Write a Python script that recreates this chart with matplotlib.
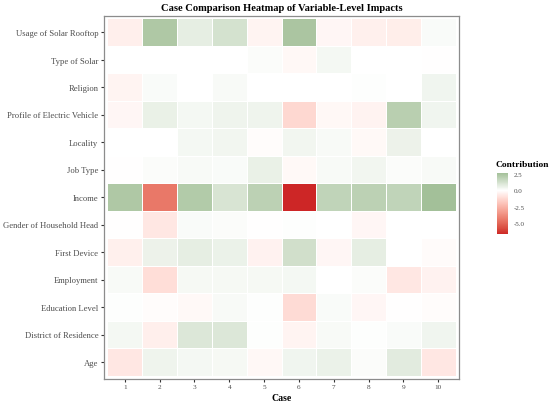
import numpy as np
import matplotlib
matplotlib.use("Agg")
from matplotlib import pyplot as plt
from matplotlib.colors import ListedColormap, Normalize

plt.rcParams['font.family'] = ['Liberation Serif', 'DejaVu Serif']

# variables, top to bottom as drawn
variables = ["Usage of Solar Rooftop", "Type of Solar", "Religion",
             "Profile of Electric Vehicle", "Locality", "Job Type", "Income",
             "Gender of Household Head", "First Device", "Employment",
             "Education Level", "District of Residence", "Age"]
cases = [1, 2, 3, 4, 5, 6, 7, 8, 9, 10]

# contribution of each variable per case
solar_rooftop = [-0.55, 2.3, 0.7, 1.2, -0.35, 2.4, -0.3, -0.5, -0.6, 0.15]
type_solar = [0.0, 0.02, 0.0, 0.0, 0.1, -0.25, 0.3, 0.0, 0.0, -0.05]
religion = [-0.35, 0.15, 0.0, 0.2, 0.0, 0.0, 0.0, 0.05, 0.02, 0.4]
ev_profile = [-0.3, 0.6, 0.3, 0.45, 0.45, -1.3, -0.25, -0.4, 2.0, 0.4]
locality = [0.0, 0.0, 0.3, 0.35, -0.1, 0.35, 0.2, -0.2, 0.5, 0.0]
job_type = [-0.05, 0.1, 0.2, 0.15, 0.6, -0.2, 0.2, 0.35, 0.1, 0.2]
income = [2.3, -4.5, 2.2, 1.1, 1.9, -6.7, 1.8, 1.9, 1.8, 2.65]
gender = [-0.05, -0.8, 0.15, 0.1, -0.05, 0.05, 0.0, -0.3, 0.0, 0.02]
first_device = [-0.5, 0.5, 0.7, 0.55, -0.45, 1.3, -0.3, 0.7, 0.0, -0.15]
employment = [0.2, -1.1, 0.25, 0.25, 0.25, 0.3, 0.0, 0.1, -0.8, -0.45]
education = [0.05, -0.1, -0.2, 0.2, 0.05, -1.2, 0.15, -0.3, -0.05, -0.1]
district = [0.3, -0.55, 1.0, 1.0, 0.05, -0.35, 0.2, 0.05, 0.15, 0.4]
age = [-0.8, 0.45, 0.3, 0.25, -0.25, 0.4, 0.55, 0.1, 0.8, -0.8]

rows = [solar_rooftop, type_solar, religion, ev_profile, locality, job_type,
        income, gender, first_device, employment, education, district, age]


# colour ramp interpolated in Lab space like ggplot's gradient2
def srgb_to_lab(c):
    c = np.asarray(c, float)
    lin = np.where(c <= 0.04045, c / 12.92, ((c + 0.055) / 1.055) ** 2.4)
    m = np.array([[0.4124, 0.3576, 0.1805],
                  [0.2126, 0.7152, 0.0722],
                  [0.0193, 0.1192, 0.9505]])
    xyz = m @ lin / np.array([0.95047, 1.0, 1.08883])
    f = np.where(xyz > 0.008856, np.cbrt(xyz), 7.787 * xyz + 16 / 116)
    return np.array([116 * f[1] - 16, 500 * (f[0] - f[1]), 200 * (f[1] - f[2])])


def lab_to_srgb(lab):
    L, a, b = lab
    fy = (L + 16) / 116
    fx = fy + a / 500
    fz = fy - b / 200
    f = np.array([fx, fy, fz])
    xyz = np.where(f ** 3 > 0.008856, f ** 3, (f - 16 / 116) / 7.787)
    xyz = xyz * np.array([0.95047, 1.0, 1.08883])
    minv = np.array([[3.2406, -1.5372, -0.4986],
                     [-0.9689, 1.8758, 0.0415],
                     [0.0557, -0.2040, 1.0570]])
    lin = minv @ xyz
    c = np.where(lin <= 0.0031308, 12.92 * lin,
                 1.055 * np.clip(lin, 0, None) ** (1 / 2.4) - 0.055)
    return np.clip(c, 0, 1)


low = srgb_to_lab([0xCD / 255, 0x26 / 255, 0x26 / 255])   # firebrick3
mid = srgb_to_lab([1.0, 1.0, 1.0])
high = srgb_to_lab([0x00 / 255, 0x64 / 255, 0x00 / 255])  # darkgreen

data = np.array(rows[::-1])  # bottom row first
vmin, vmax = data.min(), data.max()
big = max(abs(vmin), abs(vmax))  # midpoint rescale: largest side reaches full colour
ramp = []
for v in np.linspace(vmin, vmax, 256):
    t = v / big
    if t < 0:
        ramp.append(lab_to_srgb(mid + (low - mid) * (-t)))
    else:
        ramp.append(lab_to_srgb(mid + (high - mid) * t))
cmap = ListedColormap(ramp)
norm = Normalize(vmin=vmin, vmax=vmax)

fig = plt.figure(figsize=(5.5, 4.02), dpi=100)
ax = fig.add_axes([104 / 550, 1 - 379.5 / 402, 355 / 550, 363 / 402])
x_edges = np.arange(len(cases) + 1) + 0.5
y_edges = np.arange(len(variables) + 1) + 0.5
mesh = ax.pcolormesh(x_edges, y_edges, data, cmap=cmap, norm=norm,
                     edgecolors='white', linewidth=0.6)
ax.set_xlim(0.4, len(cases) + 0.6)
ax.set_ylim(0.4, len(variables) + 0.6)
ax.set_xticks(cases)
ax.set_xticklabels([str(c) for c in cases])
ax.set_yticks(np.arange(1, len(variables) + 1))
ax.set_yticklabels(variables[::-1])
ax.tick_params(axis='both', colors='#333333', labelcolor='#4D4D4D',
               labelsize=6.2, length=2.5, width=0.8, pad=1.5)
ax.tick_params(axis='x', labelsize=5.2)
for sp in ax.spines.values():
    sp.set_color('#8C8C8C')
    sp.set_linewidth(0.9)
ax.set_xlabel('Case', fontsize=7, fontweight='bold', labelpad=3)
ax.set_title('Case Comparison Heatmap of Variable-Level Impacts',
             fontsize=7.6, fontweight='bold', pad=4)

cax = fig.add_axes([497 / 550, 1 - 235 / 402, 11 / 550, 61 / 402])
cb = fig.colorbar(mesh, cax=cax)
cb.set_ticks([2.5, 0.0, -2.5, -5.0])
cb.set_ticklabels(['2.5', '0.0', '-2.5', '-5.0'])
cb.outline.set_visible(False)
cax.tick_params(length=0, labelsize=5, labelcolor='#4D4D4D', pad=4)
fig.text(496 / 550, 1 - 165 / 402, 'Contribution', fontsize=6.8,
         fontweight='bold', va='center', ha='left')

fig.savefig('out.png', dpi=100)
